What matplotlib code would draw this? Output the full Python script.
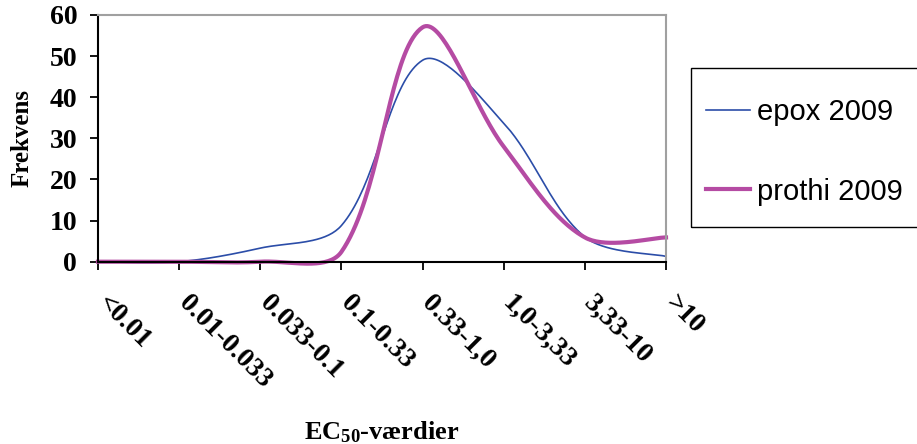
import matplotlib
matplotlib.use("Agg")
import matplotlib.pyplot as plt
import numpy as np
from matplotlib.patches import Rectangle

plt.rcParams['mathtext.fontset'] = 'custom'
plt.rcParams['mathtext.rm'] = 'Liberation Serif:bold'
plt.rcParams['mathtext.it'] = 'Liberation Serif:bold'
plt.rcParams['mathtext.bf'] = 'Liberation Serif:bold'

# EC50 classes and frequency per class
categories = ["<0.01", "0.01-0.033", "0.033-0.1", "0.1-0.33",
              "0.33-1,0", "1,0-3,33", "3,33-10", ">10"]
epox_2009 = [0, 0, 3.3, 8.8, 49, 33.7, 6, 1.3]
prothi_2009 = [0, 0, 0, 2.4, 57, 28, 5.9, 5.9]
y_ticks = [0, 10, 20, 30, 40, 50, 60]


def smooth(ax, xs, ys, n=40):
    # bezier smoothing done in screen space, tangents split by segment length
    pts = ax.transData.transform(np.column_stack([xs, ys]))
    k = len(pts)
    d = np.hypot(*np.diff(pts, axis=0).T)
    c_out = np.zeros_like(pts)
    c_in = np.zeros_like(pts)
    for i in range(k):
        if i == 0:
            c_out[i] = pts[0] + (pts[1] - pts[0]) / 6
        elif i == k - 1:
            c_in[i] = pts[-1] - (pts[-1] - pts[-2]) / 6
        else:
            t = pts[i + 1] - pts[i - 1]
            s = d[i - 1] + d[i]
            c_out[i] = pts[i] + t * d[i] / s / 3
            c_in[i] = pts[i] - t * d[i - 1] / s / 3
    out = []
    tt = np.linspace(0, 1, n)[:, None]
    for i in range(k - 1):
        p0, p1, p2, p3 = pts[i], c_out[i], c_in[i + 1], pts[i + 1]
        seg = ((1 - tt) ** 3 * p0 + 3 * (1 - tt) ** 2 * tt * p1
               + 3 * (1 - tt) * tt ** 2 * p2 + tt ** 3 * p3)
        out.append(seg if i == 0 else seg[1:])
    out = np.vstack(out)
    back = ax.transData.inverted().transform(out)
    return back[:, 0], back[:, 1]


fig = plt.figure(figsize=(9.17, 4.44), dpi=100)
ax = fig.add_axes([98 / 917, 1 - 261.7 / 444, 568 / 917, 246.7 / 444])
x = np.arange(len(categories))
ax.set_xlim(0, len(categories) - 1)
ax.set_ylim(0, 60)

ex, ey = smooth(ax, x, epox_2009)
px, py = smooth(ax, x, prothi_2009)
l1, = ax.plot(ex, ey, color="#2B4DA8", lw=1.2, label="epox 2009", clip_on=False)
l2, = ax.plot(px, py, color="#B54BA3", lw=3.0, label="prothi 2009", clip_on=False)

serif = dict(family="Liberation Serif", weight="bold")
ax.set_yticks(y_ticks)
ax.set_yticklabels([str(v) for v in y_ticks], fontdict=dict(size=20, **serif))
ax.set_xticks(x)
ax.set_xticklabels([])
ax.tick_params(axis="both", direction="out", length=6, width=1.3, color="black")
ax.tick_params(axis="y", pad=9)

for i, lab in enumerate(categories):
    ax.annotate(lab, xy=(i, 0), xycoords=("data", "axes fraction"),
                xytext=(12, -29), textcoords="offset pixels",
                rotation=-45, rotation_mode="anchor", ha="left", va="top",
                fontsize=20, annotation_clip=False, **serif)

for side in ("left", "bottom"):
    ax.spines[side].set_color("black")
    ax.spines[side].set_linewidth(1.5)
for side in ("top", "right"):
    ax.spines[side].set_color("#A0A0A0")
    ax.spines[side].set_linewidth(1.5)

ax.set_ylabel("Frekvens", fontsize=18, **serif)
ax.yaxis.set_label_coords(-0.134, 0.5)
ax.yaxis.label.set_va("center")
ax.set_xlabel("EC$_{50}$-værdier", fontsize=19, **serif)
ax.xaxis.set_label_coords(0.5, -0.69)
ax.xaxis.label.set_va("center")

# legend box, open on the right edge of the figure
fig.patches.append(Rectangle((691 / 917, 1 - 227 / 444), 0.3, 159 / 444,
                             transform=fig.transFigure, fill=False,
                             edgecolor="black", lw=1.0))
fig.legend(handles=[l1, l2], loc="center left",
           bbox_to_anchor=(700 / 917, 1 - 152 / 444),
           frameon=False, prop=dict(family="Liberation Sans", size=21),
           handlelength=1.5, handletextpad=0.25, labelspacing=1.75,
           borderpad=0.2, borderaxespad=0)

fig.savefig("out.png", dpi=100)
